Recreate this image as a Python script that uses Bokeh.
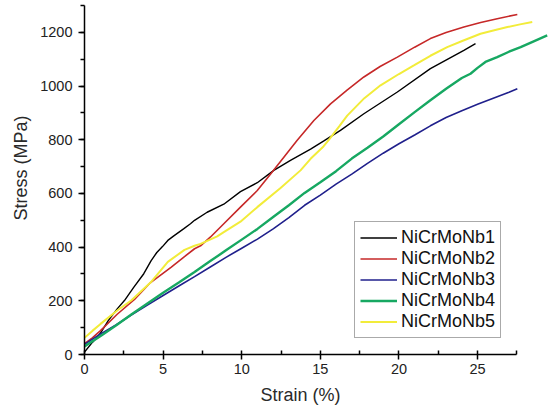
from bokeh.plotting import figure
from bokeh.models import Range1d, SingleIntervalTicker, Title
from bokeh.embed import file_html
from bokeh.resources import INLINE

# ---- data ----
nb1_x = [0, 0.5, 1.0, 1.5, 2.08, 2.54, 3.14, 3.77, 4.24, 4.6, 4.96, 5.3, 5.68, 6.3, 6.74, 7.0,
         7.8, 8.86, 9.92, 10.99, 12.04, 13.1, 14.38, 15.2, 16.28, 17.77, 19.9, 22.0, 24.13, 24.87]
nb1_y = [9, 45, 78, 125, 170, 201, 251, 301, 350, 380, 402, 425, 442, 468, 487, 500,
         530, 560, 607, 640, 686, 723, 765, 795, 835, 897, 978, 1065, 1133, 1158]

nb2_x = [0, 0.5, 1.02, 2.08, 3.18, 4.2, 5.5, 6.3, 7.0, 7.38, 8.0, 8.86, 9.92, 10.99, 11.94,
         13.53, 14.59, 15.65, 16.7, 17.77, 18.8, 19.9, 21.0, 22.0, 23.0, 24.13, 25.2, 26.25, 27.53]
nb2_y = [40, 62, 89, 150, 205, 268, 325, 362, 394, 405, 437, 487, 549, 611, 680,
         798, 872, 934, 985, 1034, 1073, 1108, 1145, 1177, 1200, 1220, 1237, 1251, 1267]

nb3_x = [0, 1, 2, 3, 4, 5, 6, 7, 8, 9, 10, 11, 12, 13, 14, 15, 16, 17, 18, 19, 20,
         21, 22, 23, 24, 25, 26, 27, 27.53]
nb3_y = [38, 76, 110, 148, 184, 220, 255, 290, 326, 362, 396, 430, 468, 510, 556, 594, 635,
         672, 712, 750, 785, 818, 852, 883, 908, 932, 955, 977, 990]

nb4_x = [0, 1, 2, 3, 4, 5, 6, 7, 8, 9, 10, 11, 12, 13, 14, 15, 16, 17, 18, 19, 20, 21,
         22, 23, 24, 24.55, 25, 25.5, 26.25, 27, 27.74, 28.5, 29.43]
nb4_y = [30, 68, 108, 150, 190, 230, 268, 307, 348, 388, 428, 468, 512, 556, 602, 642, 683,
         730, 770, 812, 858, 903, 947, 990, 1030, 1046, 1068, 1090, 1108, 1128, 1145, 1165, 1189]

nb5_x = [0, 0.5, 1.02, 2.08, 2.97, 4.2, 5.3, 6.36, 7.0, 7.38, 8.44, 8.86, 9.92, 10.99, 12.47,
         13.74, 14.38, 15.2, 15.54, 16.2, 16.71, 17.8, 18.83, 20.0, 20.95, 22.0, 23.07, 24.1,
         25.19, 26.0, 26.9, 27.7, 28.48]
nb5_y = [62, 88, 114, 164, 201, 268, 345, 390, 405, 412, 440, 456, 495, 549, 620,
         686, 729, 775, 800, 850, 890, 955, 1003, 1045, 1077, 1113, 1145, 1170,
         1195, 1207, 1220, 1230, 1239]

names = ["NiCrMoNb1", "NiCrMoNb2", "NiCrMoNb3", "NiCrMoNb4", "NiCrMoNb5"]
colors = ["#000000", "#c62828", "#20208c", "#17a862", "#f2ec3a"]
widths = [1.4, 1.6, 1.6, 2.4, 2.0]
series = [(nb1_x, nb1_y), (nb2_x, nb2_y), (nb3_x, nb3_y), (nb4_x, nb4_y), (nb5_x, nb5_y)]

x_label = "Strain (%)"
y_label = "Stress (MPa)"
x_axis_end = 27.5
y_axis_end = 1300

FONT = "Liberation Sans"

p = figure(width=550, height=413, output_backend="svg", toolbar_location=None,
           x_range=Range1d(0, 29.64), y_range=Range1d(0, 1304),
           min_border_left=84, min_border_right=0, min_border_top=4, min_border_bottom=59)

p.outline_line_color = None
p.xgrid.visible = False
p.ygrid.visible = False
p.background_fill_color = "white"
p.border_fill_color = "white"

for (xs, ys), n, c, w in zip(series, names, colors, widths):
    p.line(xs, ys, line_color=c, line_width=w, legend_label=n)

# x axis
xa = p.xaxis[0]
xa.ticker = SingleIntervalTicker(interval=5, num_minor_ticks=2)
xa.bounds = (0, x_axis_end)
xa.major_label_text_font = FONT
xa.major_label_text_font_size = "14.5px"
xa.major_label_text_color = "#222222"
xa.major_label_standoff = 4
xa.axis_line_width = 1.5
xa.axis_line_color = "black"
xa.major_tick_line_width = 1.5
xa.major_tick_out = 5
xa.major_tick_in = 0
xa.minor_tick_line_width = 1.5
xa.minor_tick_out = 0
xa.minor_tick_in = 4

# y axis
ya = p.yaxis[0]
ya.ticker = SingleIntervalTicker(interval=200, num_minor_ticks=2)
ya.bounds = (0, y_axis_end)
ya.major_label_text_font = FONT
ya.major_label_text_font_size = "14.5px"
ya.major_label_text_color = "#222222"
ya.major_label_standoff = 6
ya.axis_line_width = 1.5
ya.axis_line_color = "black"
ya.major_tick_line_width = 1.5
ya.major_tick_out = 6
ya.major_tick_in = 0
ya.minor_tick_line_width = 1.5
ya.minor_tick_out = 4
ya.minor_tick_in = 0

# axis titles (placed as side titles so they can be centred on the drawn axis lines)
p.add_layout(Title(text=x_label, align="left", offset=176, standoff=12,
                   text_font=FONT, text_font_size="18px", text_font_style="normal",
                   text_color="#2a2a2a"), "below")
p.add_layout(Title(text=y_label, align="left", offset=134, standoff=14,
                   text_font=FONT, text_font_size="18px", text_font_style="normal",
                   text_color="#2a2a2a"), "left")

# legend
lg = p.legend[0]
lg.location = (270, 16)
lg.border_line_color = "#555555"
lg.border_line_width = 1
lg.background_fill_color = "white"
lg.background_fill_alpha = 1
lg.label_text_font = FONT
lg.label_text_font_size = "18px"
lg.label_text_color = "#111111"
lg.padding = 5
lg.margin = 0
lg.spacing = 0
lg.glyph_width = 37
lg.glyph_height = 21
lg.label_height = 21
lg.label_standoff = 4

open("out.html", "w").write(file_html(p, INLINE))
